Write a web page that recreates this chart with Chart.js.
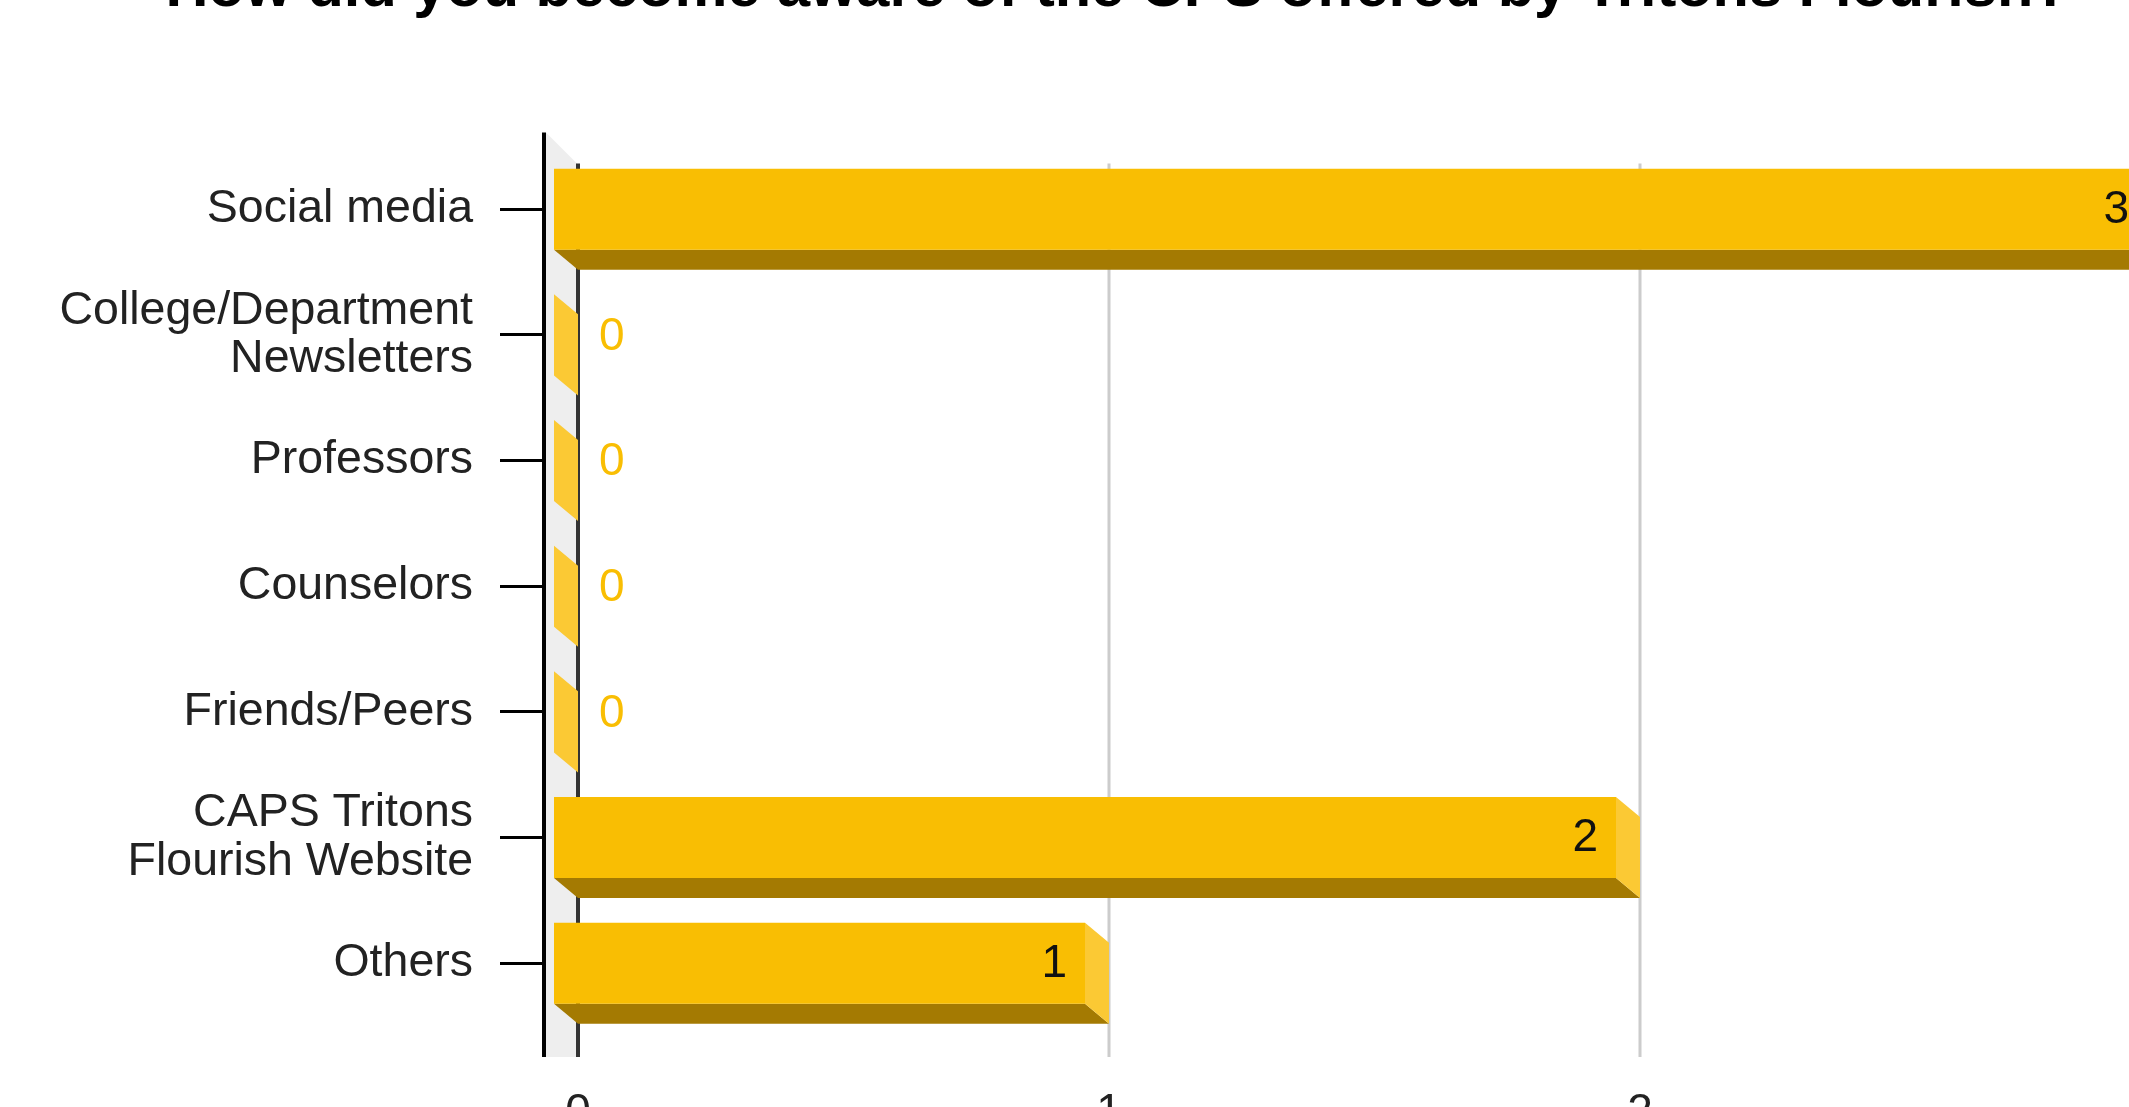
<!DOCTYPE html>
<html>
<head>
<meta charset="utf-8">
<title>Tritons Flourish - awareness</title>
<script src="https://cdn.jsdelivr.net/npm/chart.js@4.4.0/dist/chart.umd.min.js"></script>
<style>
  html, body { margin: 0; padding: 0; background: #fff; overflow: hidden; width: 2129px; height: 1107px; }
  #chartBox { position: absolute; left: 0; top: -60px; width: 2216px; height: 1200px; }
</style>
</head>
<body>
<div id="chartBox"><canvas id="myChart" width="2216" height="1200"></canvas></div>
<script>
var chartTitle = 'How did you become aware of the CPS offered by Tritons Flourish?';
var categories = [
  'Social media',
  ['College/Department', 'Newsletters'],
  'Professors',
  'Counselors',
  'Friends/Peers',
  ['CAPS Tritons', 'Flourish Website'],
  'Others'
];
var responses = [3, 0, 0, 0, 0, 2, 1];
var xTicks = [0, 1, 2, 3];

var fontFamily = '"Liberation Sans", Arial, sans-serif';
var barFront = '#f9be03';
var barSide = '#fbc934';
var barBottom = '#a47a02';
// how far the back of each bar sits from its front face
var depthX = 24, depthY = 20;
// title is centred over the whole canvas, not just the plot
var titleShift = 44;

// back wall, grid lines and the side/bottom faces of the bars
const bar3d = {
  id: 'bar3d',
  afterLayout(chart) {
    chart.titleBlock.left += titleShift;
    chart.titleBlock.right += titleShift;
  },
  beforeDatasetsDraw(chart) {
    const ctx = chart.ctx, area = chart.chartArea, xs = chart.scales.x;
    const wallTop = area.top - 14;
    const floor = area.bottom + depthY + 11;
    ctx.save();

    ctx.fillStyle = '#eeeeee';
    ctx.beginPath();
    ctx.moveTo(area.left - 8, wallTop);
    ctx.lineTo(area.left + depthX - 1, wallTop + 31);
    ctx.lineTo(area.left + depthX - 1, floor);
    ctx.lineTo(area.left - 8, floor);
    ctx.closePath();
    ctx.fill();

    ctx.lineWidth = 4;
    ctx.strokeStyle = '#000';
    ctx.beginPath();
    ctx.moveTo(area.left - 10, wallTop);
    ctx.lineTo(area.left - 10, floor);
    ctx.stroke();

    xTicks.forEach(function (v) {
      const gx = Math.round(xs.getPixelForValue(v)) + depthX;
      ctx.lineWidth = v === 0 ? 4 : 3;
      ctx.strokeStyle = v === 0 ? '#333333' : '#cccccc';
      ctx.beginPath();
      ctx.moveTo(gx, wallTop + 31);
      ctx.lineTo(gx, floor);
      ctx.stroke();
    });

    const meta = chart.getDatasetMeta(0);
    meta.data.forEach(function (bar) {
      const p = bar.getProps(['x', 'y', 'base', 'height'], true);
      const T = p.y - p.height / 2, B = p.y + p.height / 2;
      const L = p.base, R = p.x;

      ctx.fillStyle = barBottom;
      ctx.beginPath();
      ctx.moveTo(L, B);
      ctx.lineTo(R, B);
      ctx.lineTo(R + depthX, B + depthY);
      ctx.lineTo(L + depthX, B + depthY);
      ctx.closePath();
      ctx.fill();

      ctx.fillStyle = barSide;
      ctx.beginPath();
      ctx.moveTo(R, T);
      ctx.lineTo(R + depthX, T + depthY);
      ctx.lineTo(R + depthX, B + depthY);
      ctx.lineTo(R, B);
      ctx.closePath();
      ctx.fill();
    });
    ctx.restore();
  },
  afterDatasetsDraw(chart) {
    const ctx = chart.ctx;
    const meta = chart.getDatasetMeta(0);
    ctx.save();
    ctx.font = '46px ' + fontFamily;
    ctx.textBaseline = 'middle';
    meta.data.forEach(function (bar, i) {
      const v = responses[i];
      if (v > 0) {
        ctx.fillStyle = '#111';
        ctx.textAlign = 'right';
        ctx.fillText(String(v), bar.x - 18, bar.y + 1);
      } else {
        ctx.fillStyle = barFront;
        ctx.textAlign = 'left';
        ctx.fillText(String(v), bar.x + 45, bar.y + 2);
      }
    });
    ctx.restore();
  }
};

var ctx = document.getElementById('myChart');
var chartInstance = new Chart(ctx, {
  type: 'bar',
  data: {
    labels: categories,
    datasets: [{
      label: 'Responses',
      data: responses,
      backgroundColor: barFront,
      borderWidth: 0,
      barPercentage: 0.645,
      categoryPercentage: 1.0
    }]
  },
  options: {
    indexAxis: 'y',
    responsive: false,
    animation: false,
    devicePixelRatio: 1,
    layout: { padding: { left: 0, right: 69, top: 0, bottom: 0 } },
    scales: {
      x: {
        min: 0,
        max: 3,
        grid: { display: false },
        border: { display: false },
        ticks: { color: '#222', font: { family: fontFamily, size: 46 }, padding: 52, labelOffset: depthX },
        afterBuildTicks: function (scale) {
          scale.ticks = xTicks.map(function (v) { return { value: v }; });
        },
        afterFit: function (scale) { scale.height = 114; }
      },
      y: {
        offset: true,
        grid: { offset: false, drawOnChartArea: false, drawTicks: true, tickLength: 54, tickColor: '#000', tickWidth: 3 },
        border: { display: false },
        ticks: { color: '#222', autoSkip: false, padding: 27, font: { family: fontFamily, size: 46.5, lineHeight: 1.04 } },
        afterFit: function (scale) { scale.width = 554; }
      }
    },
    plugins: {
      legend: { display: false },
      tooltip: { enabled: false },
      title: {
        display: true,
        text: chartTitle,
        color: '#000',
        font: { family: fontFamily, size: 59.5, weight: 'bold', lineHeight: 1.2 },
        padding: { top: 14, bottom: 121 }
      }
    }
  },
  plugins: [bar3d]
});
</script>
</body>
</html>
